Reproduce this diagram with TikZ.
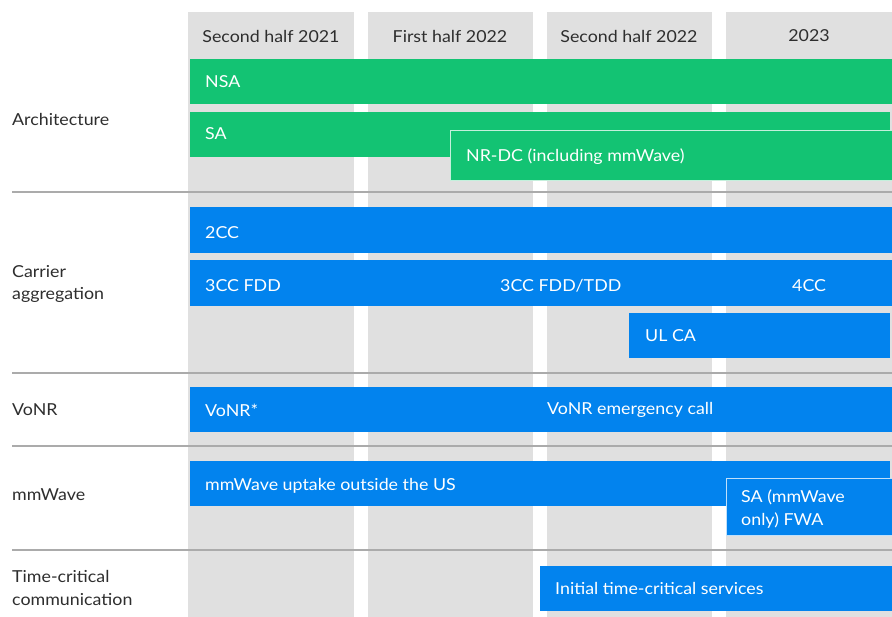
\documentclass[tikz,border=0pt]{standalone}
\usepackage{fontspec}
\setmainfont{Lato}[FakeStretch=1.08]
\definecolor{egreen}{HTML}{13C373}
\definecolor{eblue}{HTML}{0283EE}
\definecolor{colgray}{HTML}{E0E0E0}
\definecolor{divgray}{HTML}{ABABAB}
\definecolor{labtext}{HTML}{2E2E2E}
\begin{document}
\begin{tikzpicture}[x=1pt,y=-1pt,
  col/.style={fill=colgray,draw=none},
  gbar/.style={fill=egreen,draw=none,anchor=north west,inner sep=0pt},
  bbar/.style={fill=eblue,draw=none,anchor=north west,inner sep=0pt},
  wtxt/.style={text=white,anchor=west,inner sep=0pt,font=\fontsize{16.5}{19}\selectfont},
  hdr/.style={text=labtext,anchor=center,inner sep=0pt,font=\fontsize{16.5}{19}\selectfont},
  lab/.style={text=labtext,anchor=west,inner sep=0pt,align=left,font=\fontsize{16.5}{22.5}\selectfont},
  divider/.style={draw=divgray,line width=1.3pt}]
\useasboundingbox (0,0) rectangle (892,617);
\fill[white] (0,0) rectangle (892,617);
% columns
\fill[col] (188,12) rectangle (354,617);
\fill[col] (368,12) rectangle (533,617);
\fill[col] (547,12) rectangle (712,617);
\fill[col] (726,12) rectangle (892,617);
% headers
\node[hdr] (h1) at (271,36) {Second half 2021};
\node[hdr] (h2) at (450,36) {First half 2022};
\node[hdr] (h3) at (629,36) {Second half 2022};
\node[hdr] (h4) at (809,36) {2023};
% dividers
\coordinate (d1l) at (12,192); \coordinate (d1r) at (892,192);
\coordinate (d2l) at (12,373); \coordinate (d2r) at (892,373);
\coordinate (d3l) at (12,446); \coordinate (d3r) at (892,446);
\coordinate (d4l) at (12,550); \coordinate (d4r) at (892,550);
\draw[divider] (d1l) -- (d1r);
\draw[divider] (d2l) -- (d2r);
\draw[divider] (d3l) -- (d3r);
\draw[divider] (d4l) -- (d4r);
% row labels
\node[lab] (larch) at (12,119) {Architecture};
\node[lab] (lca) at (12,284) {Carrier\\aggregation};
\node[lab] (lvonr) at (12,410) {VoNR};
\node[lab] (lmmw) at (12,495) {mmWave};
\node[lab] (ltc) at (12,588) {Time-critical\\communication};
% Architecture
\node[gbar,minimum width=702,minimum height=45] (nsa) at (190,59) {};
\node[wtxt] (tnsa) at (205,82) {NSA};
\node[gbar,minimum width=700,minimum height=45] (sa) at (190,112) {};
\node[wtxt] (tsa) at (205,134) {SA};
\node[gbar,minimum width=442,minimum height=50,draw=white!75!egreen,line width=0.8pt] (nrdc) at (450,130) {};
\node[wtxt] (tnrdc) at (466,157) {NR-DC (including mmWave)};
% Carrier aggregation
\node[bbar,minimum width=702,minimum height=46] (cc2) at (190,207) {};
\node[wtxt] (tcc2) at (205,233) {2CC};
\node[bbar,minimum width=702,minimum height=46] (cc3) at (190,260) {};
\node[wtxt] (tcc3) at (205,286) {3CC FDD};
\node[wtxt] (tcc3t) at (500,286) {3CC FDD/TDD};
\node[wtxt] (tcc4) at (792,286) {4CC};
\node[bbar,minimum width=261,minimum height=45] (ulca) at (629,313) {};
\node[wtxt] (tulca) at (645,336) {UL CA};
% VoNR
\node[bbar,minimum width=702,minimum height=45] (vonr) at (190,387) {};
\node[wtxt] (tvonr) at (205,410) {VoNR*};
\node[wtxt] (tvonre) at (547,410) {VoNR emergency call};
% mmWave
\node[bbar,minimum width=700,minimum height=45] (mmw) at (190,461) {};
\node[wtxt] (tmmw) at (205,486) {mmWave uptake outside the US};
\node[bbar,minimum width=166,minimum height=57,draw=white!75!eblue,line width=0.8pt] (fwa) at (726,478) {};
\node[wtxt,align=left,font=\fontsize{16.5}{23}\selectfont] (tfwa) at (741,509) {SA (mmWave\\only) FWA};
% Time-critical
\node[bbar,minimum width=352,minimum height=45] (tc) at (540,566) {};
\node[wtxt] (ttc) at (555,588) {Initial time-critical services};
\end{tikzpicture}
\end{document}
